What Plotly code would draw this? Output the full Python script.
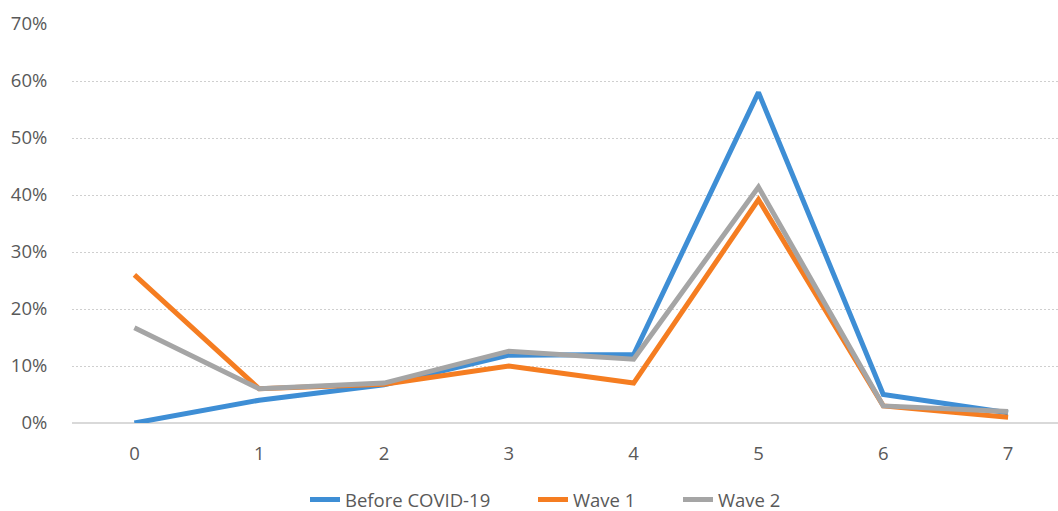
import plotly.graph_objects as go

categories = [0, 1, 2, 3, 4, 5, 6, 7]
before_covid = [0.000, 0.040, 0.067, 0.119, 0.120, 0.580, 0.050, 0.018]
wave_1 = [0.260, 0.060, 0.068, 0.100, 0.070, 0.392, 0.030, 0.010]
wave_2 = [0.167, 0.060, 0.070, 0.126, 0.112, 0.414, 0.030, 0.020]
y_ticks = [0, 0.1, 0.2, 0.3, 0.4, 0.5, 0.6, 0.7]
y_tick_text = ["0%", "10%", "20%", "30%", "40%", "50%", "60%", "70%"]

series = [
    ("Before COVID-19", before_covid, "#3e8ed5"),
    ("Wave 1", wave_1, "#f57d21"),
    ("Wave 2", wave_2, "#a5a5a5"),
]

W, H = 1058, 511
font_color = "#595959"
# one legend per series so each entry can be placed along the bottom row
legend_ids = ["legend", "legend2", "legend3"]
legend_left_px = [305, 533, 678]

fig = go.Figure()
for (name, vals, color), lid in zip(series, legend_ids):
    fig.add_trace(go.Scatter(
        x=categories, y=vals, name=name, mode="lines",
        line=dict(color=color, width=5), legend=lid,
    ))

legend_common = dict(
    orientation="h", xref="container", yref="container",
    y=1 - 500 / H, yanchor="middle", xanchor="left",
    font=dict(size=18.5, color=font_color), bgcolor="rgba(0,0,0,0)",
)

fig.update_layout(
    width=W, height=H,
    margin=dict(l=72, r=0, t=24, b=88, autoexpand=False),
    paper_bgcolor="white", plot_bgcolor="white",
    font=dict(family="Open Sans", size=18.5, color=font_color),
    showlegend=True,
    xaxis=dict(
        range=[-0.5, 7.4], tickvals=categories, showgrid=False,
        zeroline=False, showline=False, ticks="outside", ticklen=14,
        tickcolor="rgba(0,0,0,0)", tickfont=dict(size=18.5, color=font_color),
        fixedrange=True,
    ),
    yaxis=dict(
        range=[0, 0.7], tickvals=y_ticks, ticktext=y_tick_text,
        showgrid=True, gridcolor="#cfcfcf", griddash="2px,2px", gridwidth=1,
        zeroline=True, zerolinecolor="#d9d9d9", zerolinewidth=2,
        showline=False, ticks="outside", ticklen=20, tickcolor="rgba(0,0,0,0)",
        tickfont=dict(size=18.5, color=font_color), fixedrange=True,
    ),
)
for lid, px in zip(legend_ids, legend_left_px):
    fig.update_layout({lid: dict(legend_common, x=px / W)})

fig.write_html("out.html")
